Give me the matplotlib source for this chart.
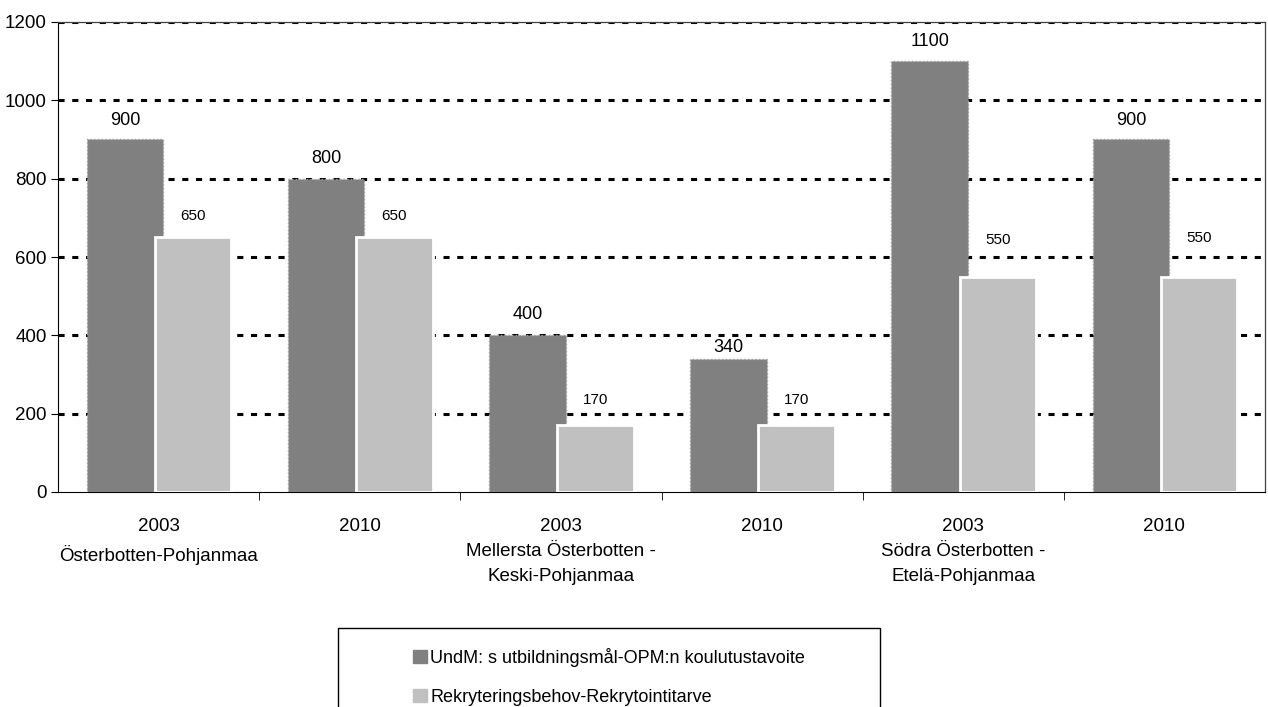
import matplotlib.pyplot as plt
import matplotlib.patches as mpatches
import numpy as np

plt.rcParams['font.family'] = ['Liberation Sans Narrow', 'Liberation Sans', 'DejaVu Sans']

## Data
categories = [
    "2003\nÖsterbotten-Pohjanmaa",
    "2010",
    "2003\nMellersta Österbotten -\nKeski-Pohjanmaa",
    "2010",
    "2003\nSödra Österbotten -\nEtelä-Pohjanmaa",
    "2010",
]
target = [900, 800, 400, 340, 1100, 900]
recruit = [650, 650, 170, 170, 550, 550]
series_names = [
    "UndM: s utbildningsmål-OPM:n koulutustavoite",
    "Rekryteringsbehov-Rekrytointitarve",
]

# label offsets above the bar top (pixels), as Excel placed them
target_lbl_off = [19, 20, 21, 11, 20, 19]
recruit_lbl_off = [21, 21, 25, 25, 37, 39]

DARK = "#808080"
LIGHT = "#c0c0c0"

fig = plt.figure(figsize=(12.68, 7.07), dpi=100)
ax = fig.add_axes([58 / 1268, 1 - 492 / 707, 1207 / 1268, 470 / 707])

x = np.arange(len(categories))
w = 0.38
ax.bar(x - 0.167, target, w, color=DARK, edgecolor="#a0a0a0",
       linewidth=1, linestyle=":", zorder=3)
ax.bar(x + 0.172, recruit, w, color=LIGHT, edgecolor="white",
       linewidth=2, zorder=4)

for xi, v, off in zip(x, target, target_lbl_off):
    ax.annotate(str(v), (xi - 0.167, v), xytext=(0, off), textcoords="offset pixels",
                ha="center", va="center", fontsize=13, zorder=5)
for xi, v, off in zip(x, recruit, recruit_lbl_off):
    ax.annotate(str(v), (xi + 0.172, v), xytext=(0, off), textcoords="offset pixels",
                ha="center", va="center", fontsize=11, zorder=5)

ax.set_xlim(-0.5, len(categories) - 0.5)
ax.set_ylim(0, 1200)
ax.set_yticks(range(0, 1201, 200))
ax.yaxis.grid(True, color="black", linestyle=(0, (2, 2.5)), linewidth=2.2)
ax.set_axisbelow(True)
ax.yaxis.get_gridlines()[0].set_visible(False)

ax.set_xticks(x)
ax.set_xticklabels(categories, fontsize=13.5, linespacing=1.6)
ax.tick_params(axis="x", length=0, pad=19)
ax.set_xticks(np.arange(0.5, len(categories) - 0.5, 1), minor=True)
ax.tick_params(axis="x", which="minor", length=6, direction="out")
ax.tick_params(axis="y", length=5, labelsize=13.5, direction="out", pad=3)

for s in ["top", "right"]:
    ax.spines[s].set_linewidth(0.9)
    ax.spines[s].set_color("#404040")

# legend box (cut off at the bottom edge like the original)
fig.patches.append(mpatches.Rectangle((338 / 1268, -0.01), (880 - 338) / 1268, 1.01 - 628 / 707,
                                      transform=fig.transFigure, fill=False,
                                      edgecolor="black", linewidth=1))
handles = [mpatches.Patch(color=DARK), mpatches.Patch(color=LIGHT)]
fig.legend(handles, series_names, loc="upper left",
           bbox_to_anchor=(404 / 1268, 1 - 639 / 707), frameon=False,
           fontsize=13, handlelength=0.75, handleheight=0.75, handletextpad=0.2,
           labelspacing=1.2, borderpad=0)

fig.savefig("out.png", dpi=100)
